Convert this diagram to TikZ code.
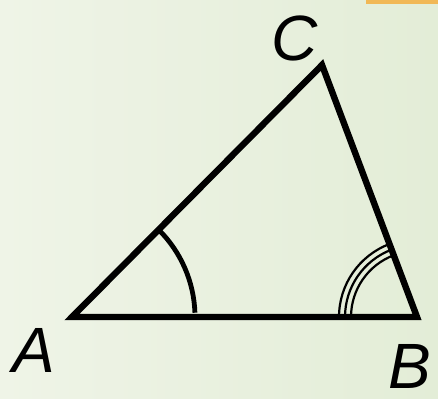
\documentclass[tikz,border=0pt]{standalone}
\usepackage{fontspec}
\newfontfamily\lblfont{Liberation Sans}
\definecolor{fondoIzq}{RGB}{239,244,231}
\definecolor{fondoDer}{RGB}{227,237,215}
\definecolor{franja}{RGB}{241,184,86}
\begin{document}
\begin{tikzpicture}[
  x=0.5pt, y=0.5pt,
  lado/.style={line width=3.2pt, draw=black, line join=miter},
  arcoA/.style={line width=2.4pt, draw=black},
  arcoB/.style={line width=1.1pt, draw=black},
  etiq/.style={font=\lblfont\itshape\fontsize{32}{35}\selectfont, inner sep=0pt}
]
  \useasboundingbox (0,0) rectangle (438,398);

  % Fondo verde claro y franja naranja arriba
  \shade[left color=fondoIzq, right color=fondoDer] (0,0) rectangle (438,398);
  \fill[franja] (366,394) rectangle (438,398);

  % Vértices del triángulo
  \coordinate (A) at (72,81);
  \coordinate (B) at (417,81);
  \coordinate (C) at (322,333);

  % Lados
  \draw[lado] (A) -- (B) -- (C) -- cycle;

  % Ángulo en A (un arco)
  \draw[arcoA] (A) ++(2:123) arc[start angle=2, end angle=45, radius=123];

  % Ángulo en B (tres arcos)
  \foreach \r in {66,72,78}
    \draw[arcoB] (B) ++(180:\r) arc[start angle=180, end angle=110.7, radius=\r];

  % Etiquetas
  \node[etiq] (lA) at (34,48) {A};
  \node[etiq] (lB) at (410,32) {B};
  \node[etiq] (lC) at (295,360) {C};
\end{tikzpicture}
\end{document}
